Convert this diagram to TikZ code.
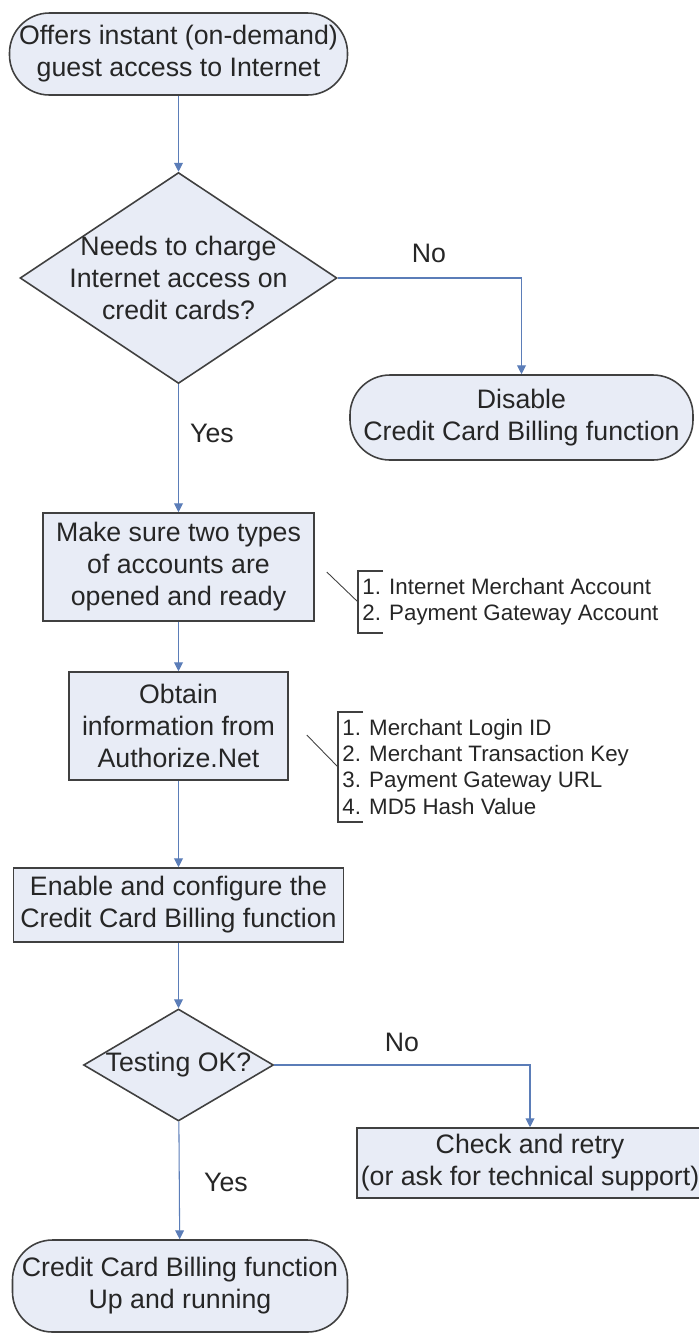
\documentclass[tikz,border=0pt]{standalone}
\usepackage{fontspec}
\setmainfont{Liberation Sans}
\usepackage{tikz}
\usetikzlibrary{shapes.geometric, arrows.meta}
\definecolor{boxFill}{HTML}{E8ECF6}
\definecolor{boxLine}{HTML}{404040}
\definecolor{flowLine}{HTML}{5B7DB8}
\definecolor{textGray}{HTML}{262626}
\newcommand{\flowfont}{\fontsize{15.2}{18.2}\selectfont}
\newcommand{\notefont}{\fontsize{12.7}{14.8}\selectfont}

\begin{document}
\begin{tikzpicture}[
        term/.style={draw=boxLine, fill=boxFill, line width=0.9pt, rounded corners=0.8cm, align=center, text=textGray, font=\flowfont, inner sep=0pt},
        process/.style={draw=boxLine, fill=boxFill, line width=0.9pt, align=center, text=textGray, font=\flowfont, inner sep=0pt},
        decision/.style={diamond, draw=boxLine, fill=boxFill, line width=0.9pt, align=center, text=textGray, font=\flowfont, inner sep=-0.3cm},
        flow/.style={draw=flowLine, line width=0.6pt, -{Triangle[length=5pt, width=5pt]}},
        answer/.style={text=textGray, font=\flowfont},
        note/.style={align=left, text=textGray, font=\notefont, inner xsep=0.08cm, inner ysep=0.15cm, anchor=west},
        bracket/.style={draw=boxLine, line width=0.9pt},
        pointer/.style={draw=boxLine, line width=0.5pt}
    ]
        \useasboundingbox (0,0) rectangle (13.98,-26.66);

        % main column
        \node[term, minimum width=6.76cm, minimum height=1.64cm] (offer) at (3.57,-1.08) {Offers instant (on-demand)\\guest access to Internet};
        \node[decision, minimum width=6.34cm, minimum height=4.22cm, aspect=1.5] (charge) at (3.57,-5.56) {Needs to charge\\Internet access on\\credit cards?};
        \node[term, minimum width=6.86cm, minimum height=1.7cm] (disable) at (10.43,-8.35) {Disable\\Credit Card Billing function};
        \node[process, minimum width=5.42cm, minimum height=2.16cm] (accounts) at (3.57,-11.34) {Make sure two types\\of accounts are\\opened and ready};
        \node[process, minimum width=4.38cm, minimum height=2.16cm] (obtain) at (3.57,-14.52) {Obtain\\information from\\Authorize.Net};
        \node[process, minimum width=6.6cm, minimum height=1.48cm] (enable) at (3.57,-18.1) {Enable and configure the\\Credit Card Billing function};
        \node[decision, minimum width=3.8cm, minimum height=2.24cm, aspect=1.7] (testing) at (3.57,-21.3) {Testing OK?};
        \node[process, minimum width=6.92cm, minimum height=1.4cm] (retry) at (10.6,-23.26) {Check and retry\\(or ask for technical support)};
        \node[term, minimum width=6.7cm, minimum height=1.84cm] (running) at (3.6,-25.72) {Credit Card Billing function\\Up and running};

        % yes / no
        \node[answer] (noCharge) at (8.58,-5.06) {No};
        \node[answer] (yesCharge) at (4.24,-8.66) {Yes};
        \node[answer] (noTest) at (8.04,-20.84) {No};
        \node[answer] (yesTest) at (4.52,-23.64) {Yes};

        % side notes
        \node[note] (accList) at (7.16,-12.04) {1. Internet Merchant Account\\2. Payment Gateway Account};
        \node[note] (keyList) at (6.76,-15.34) {1. Merchant Login ID\\2. Merchant Transaction Key\\3. Payment Gateway URL\\4. MD5 Hash Value};

        \draw[bracket] ([xshift=0.5cm]accList.north west) -- (accList.north west) -- (accList.south west) -- ++(0.5,0);
        \draw[bracket] ([xshift=0.5cm]keyList.north west) -- (keyList.north west) -- (keyList.south west) -- ++(0.5,0);
        \draw[pointer] ([xshift=0.24cm,yshift=-0.1cm]accounts.east) -- (accList.west);
        \draw[pointer] ([xshift=0.36cm,yshift=-0.18cm]obtain.east) -- (keyList.west);

        % connectors
        \draw[flow] (offer) -- (charge);
        \draw[flow] (charge.east) -| (disable.north);
        \draw[flow] (charge) -- (accounts);
        \draw[flow] (accounts) -- (obtain);
        \draw[flow] (obtain) -- (enable);
        \draw[flow] (enable) -- (testing);
        \draw[flow] (testing.east) -| (retry.north);
        \draw[flow] (testing) -- (running);
    \end{tikzpicture}
\end{document}
